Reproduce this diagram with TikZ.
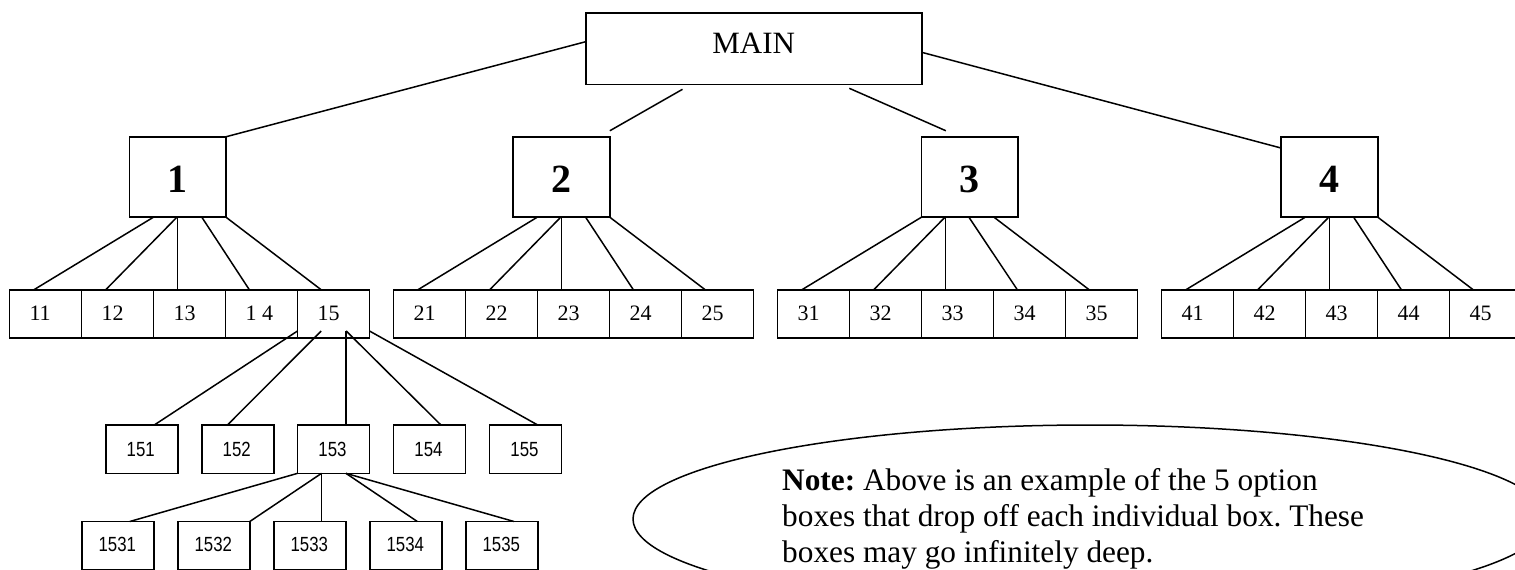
\documentclass[tikz,border=0pt]{standalone}
\usepackage{fontspec}
\setmainfont{Liberation Serif}
\newfontfamily\narrowsans[FakeStretch=0.82]{Liberation Sans}
\usetikzlibrary{calc}
\frenchspacing
\tikzset{
  box/.style={draw, line width=1.6pt, inner sep=0pt, outer sep=0pt, rectangle},
  rowbox/.style={box, minimum width=72pt, minimum height=48pt},
  topbox/.style={box, minimum width=96.7pt, minimum height=80.5pt},
  mainbox/.style={box, minimum width=336pt, minimum height=71.6pt},
  conn/.style={line width=1.5pt},
  lab/.style={inner sep=0pt, outer sep=0pt},
  serifnum/.style={lab, anchor=base west, font=\fontsize{22}{26}\selectfont},
  sansnum/.style={lab, anchor=base, font=\narrowsans\fontsize{20.5}{24}\selectfont},
  bignum/.style={lab, anchor=base, font=\fontsize{40}{46}\selectfont\bfseries},
  notetext/.style={lab, anchor=base west, font=\fontsize{31.3}{36}\selectfont},
}
\begin{document}
\begin{tikzpicture}[x=1pt,y=-1pt]
\useasboundingbox (0,0) rectangle (1515,570);
\fill[white] (0,0) rectangle (1515,570);
\clip (0,0) rectangle (1515,570);

% MAIN
\node[mainbox] (main) at (753.7,48.5) {};
\node[lab, anchor=base, font=\fontsize{31}{36}\selectfont] (maint) at (753.7,53.3) {MAIN};

% level 1 boxes
\node[topbox] (n1) at (177.7,177) {};
\node[topbox] (n2) at (561.5,177) {};
\node[topbox] (n3) at (969.7,177) {};
\node[topbox] (n4) at (1329.5,177) {};
\node[bignum] (t1) at (177.7,192.3) {1};
\node[bignum] (t2) at (561.5,192.3) {2};
\node[bignum] (t3) at (969.7,192.3) {3};
\node[bignum] (t4) at (1329.5,192.3) {4};

% MAIN connectors
\draw[conn] ($(main.north west)+(0,29)$) -- (n1.north east);
\draw[conn] ($(main.south)+(-71.2,5)$) -- ($(n2.north east)+(0,-6)$);
\draw[conn] ($(main.south)+(95.6,4)$) -- ($(n3.north west)+(24.5,-6)$);
\draw[conn] ($(main.north east)+(0,39.6)$) -- ($(n4.north west)+(0,11.3)$);

% row 1 boxes
\foreach \g/\L in {1/9.5, 2/393.5, 3/777.5, 4/1161.5} {
  \foreach \k in {1,...,5} {
    \node[rowbox] (b\g\k) at ({\L+36+72*(\k-1)}, 314) {};
    \node[serifnum] (tb\g\k) at ({\L+20+72*(\k-1)}, 320) {\ifnum\g\k=14 1 4\else\g\k\fi};
  }
  \coordinate (v\g) at ($(b\g3.north west)+(24,0)$);
}

% level 1 -> row 1 connectors
\foreach \g in {1,2,4} {
  \draw[conn] ($(n\g.south west)+(24,0)$) -- ($(b\g1.north west)+(24,0)$);
  \draw[conn] ($(n\g.south west)+(47.5,0)$) -- ($(b\g2.north west)+(24,0)$);
  \draw[conn] (v\g) -- (v\g |- n\g.south);
  \draw[conn] ($(n\g.south west)+(72.5,0)$) -- ($(b\g4.north west)+(24,0)$);
  \draw[conn] (n\g.south east) -- ($(b\g5.north west)+(24,0)$);
}
\draw[conn] (n3.south west) -- ($(b31.north west)+(24,0)$);
\draw[conn] ($(n3.south west)+(23.6,0)$) -- ($(b32.north west)+(24,0)$);
\draw[conn] (v3) -- (v3 |- n3.south);
\draw[conn] ($(n3.south west)+(47.6,0)$) -- ($(b34.north west)+(24,0)$);
\draw[conn] ($(n3.south west)+(72.7,0)$) -- ($(b35.north west)+(24,0)$);

% row 2 boxes (children of 15)
\foreach \k/\L in {1/105.7, 2/201.7, 3/297.5, 4/393.5, 5/489.5} {
  \node[rowbox, minimum height=48.3pt] (c15\k) at ({\L+36}, 449.2) {};
  \node[sansnum] (tc15\k) at ({\L+35}, 456.7) {15\k};
}
\draw[conn] ($(b15.south west)+(0,-7)$) -- ($(c151.north west)+(48.5,0)$);
\draw[conn] ($(b15.south west)+(23.7,-7)$) -- ($(c152.north west)+(25.7,0)$);
\draw[conn] ($(b15.south west)+(48.7,-7)$) -- ($(c153.north west)+(48.7,0)$);
\draw[conn] ($(b15.south west)+(48.7,-7)$) -- ($(c154.north west)+(47.5,0)$);
\draw[conn] ($(b15.south east)+(0,-7)$) -- ($(c155.north west)+(48.3,0)$);

% row 3 boxes (children of 153)
\foreach \k/\L in {1/81.8, 2/177.8, 3/273.8, 4/369.8, 5/465.8} {
  \node[rowbox] (c153\k) at ({\L+36}, 545.5) {};
  \node[sansnum] (tc153\k) at ({\L+35.5}, 551.7) {153\k};
}
\draw[conn] (c153.south west) -- ($(c1531.north west)+(48,0)$);
\draw[conn] ($(c153.south west)+(24,0)$) -- (c1532.north east);
\draw[conn] ($(c153.south west)+(24,0)$) -- ($(c1533.north west)+(47.7,0)$);
\draw[conn] ($(c153.south west)+(48.5,0)$) -- ($(c1534.north west)+(47.5,0)$);
\draw[conn] ($(c153.south west)+(48.5,0)$) -- ($(c1535.north west)+(48.2,0)$);

% note ellipse
\draw[line width=1.5pt] (1090,519) ellipse [x radius=457, y radius=94];
\node[notetext] (note1) at (782.2,490) {\textbf{Note:} Above is an example of the 5 option};
\node[notetext] (note2) at (782.2,526.3) {boxes that drop off each individual box. These};
\node[notetext] (note3) at (782.2,562) {boxes may go infinitely deep.};
\end{tikzpicture}
\end{document}
